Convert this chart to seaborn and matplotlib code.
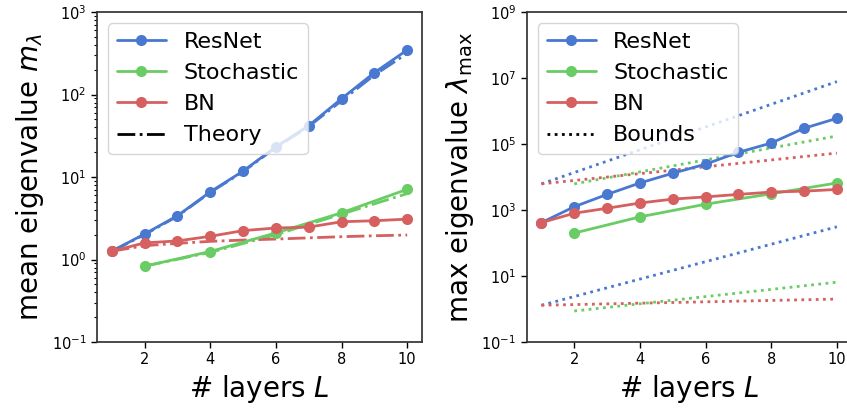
import numpy as np
import pandas as pd
import matplotlib
matplotlib.use("Agg")
import matplotlib.pyplot as plt
from matplotlib.lines import Line2D
import seaborn as sns

# layers
L_all = [1, 2, 3, 4, 5, 6, 7, 8, 9, 10]
L_even = [2, 4, 6, 8, 10]

# mean eigenvalue (left panel)
mean_resnet = [1.26, 2.04, 3.39, 6.6, 11.8, 23.2, 41.9, 89, 184, 347]
mean_stoch = [0.83, 1.25, 2.1, 3.68, 7.1]
mean_bn = [1.26, 1.59, 1.68, 1.91, 2.24, 2.41, 2.47, 2.87, 2.95, 3.09]
theory_resnet = [1.26, 2.0, 3.35, 6.5, 11.6, 22.8, 41, 84, 172, 315]
theory_stoch = [0.83, 1.22, 2.0, 3.55, 6.3]
theory_bn = [1.26, 1.47, 1.57, 1.66, 1.72, 1.77, 1.83, 1.89, 1.94, 1.98]

# max eigenvalue (right panel)
max_resnet = [415, 1260, 2970, 6600, 13000, 24500, 56000, 107000, 300000, 600000]
max_stoch = [200, 620, 1500, 3100, 6600]
max_bn = [415, 800, 1130, 1630, 2140, 2500, 2970, 3500, 3730, 4200]
# bounds (upper / lower), endpoints
bound_L_all = [1, 10]
bound_L_even = [2, 10]
upper_resnet = [6200, 7.8e6]
upper_stoch = [6200, 1.75e5]
upper_bn = [6200, 5.3e4]
lower_resnet = [1.3, 310]
lower_stoch = [0.87, 6.5]
lower_bn = [1.3, 2.0]

sns.set_theme(style="ticks", palette="muted",
              rc={"text.color": "black", "axes.labelcolor": "black",
                  "xtick.color": "black", "ytick.color": "black",
                  "axes.edgecolor": "#333333"})
pal = sns.color_palette("muted")
c_res, c_sto, c_bn = pal[0], pal[2], pal[3]

fig = plt.figure(figsize=(8.47, 4.09), dpi=100)
ax1 = fig.add_axes([0.1145, 0.1638, 0.3837, 0.8068])
ax2 = fig.add_axes([0.6218, 0.1638, 0.3837, 0.8068])

mk = dict(marker="o", markersize=8, markeredgewidth=0, linewidth=2)

def series(ax, x, y, color, label=None, **kw):
    sns.lineplot(x=x, y=y, ax=ax, color=color, label=label, **kw)

# left
series(ax1, L_all, theory_resnet, c_res, linestyle="-.", linewidth=2)
series(ax1, L_even, theory_stoch, c_sto, linestyle="-.", linewidth=2)
series(ax1, L_all, theory_bn, c_bn, linestyle="-.", linewidth=2)
series(ax1, L_all, mean_resnet, c_res, "ResNet", **mk)
series(ax1, L_even, mean_stoch, c_sto, "Stochastic", **mk)
series(ax1, L_all, mean_bn, c_bn, "BN", **mk)

# right
for x, y, c in [(bound_L_all, upper_resnet, c_res), (bound_L_even, upper_stoch, c_sto),
                (bound_L_all, upper_bn, c_bn), (bound_L_all, lower_resnet, c_res),
                (bound_L_even, lower_stoch, c_sto), (bound_L_all, lower_bn, c_bn)]:
    series(ax2, x, y, c, linestyle=(0, (1, 1.6)), linewidth=2)
series(ax2, L_all, max_resnet, c_res, "ResNet", **mk)
series(ax2, L_even, max_stoch, c_sto, "Stochastic", **mk)
series(ax2, L_all, max_bn, c_bn, "BN", **mk)

for ax in (ax1, ax2):
    ax.set_yscale("log")
    ax.set_xticks([2, 4, 6, 8, 10])
    ax.set_xlim(0.55, 10.45)
    ax.tick_params(labelsize=10.5, length=4, width=1)
    ax.tick_params(which="minor", length=2, width=0.8)
    ax.set_xlabel("# layers $L$", fontsize=20)
    for s in ax.spines.values():
        s.set_visible(True)

ax1.set_ylim(1e-1, 1e3)
ax1.set_ylabel(r"mean eigenvalue $m_\lambda$", fontsize=20)
ax2.set_ylim(1e-1, 1e9)
ax2.set_yticks([1e-1, 1e1, 1e3, 1e5, 1e7, 1e9])
ax2.yaxis.set_minor_locator(matplotlib.ticker.NullLocator())
ax2.set_ylabel(r"max eigenvalue $\lambda_{\max}$", fontsize=20)

h1, l1 = ax1.get_legend_handles_labels()
h1.append(Line2D([], [], color="black", linestyle="-.", linewidth=2))
l1.append("Theory")
ax1.legend(h1, l1, loc="upper left", fontsize=16, handlelength=2.2)

h2, l2 = ax2.get_legend_handles_labels()
h2.append(Line2D([], [], color="black", linestyle=(0, (1, 1.6)), linewidth=2))
l2.append("Bounds")
ax2.legend(h2, l2, loc="upper left", fontsize=16, handlelength=2.2)

fig.savefig("out.png", dpi=100)
